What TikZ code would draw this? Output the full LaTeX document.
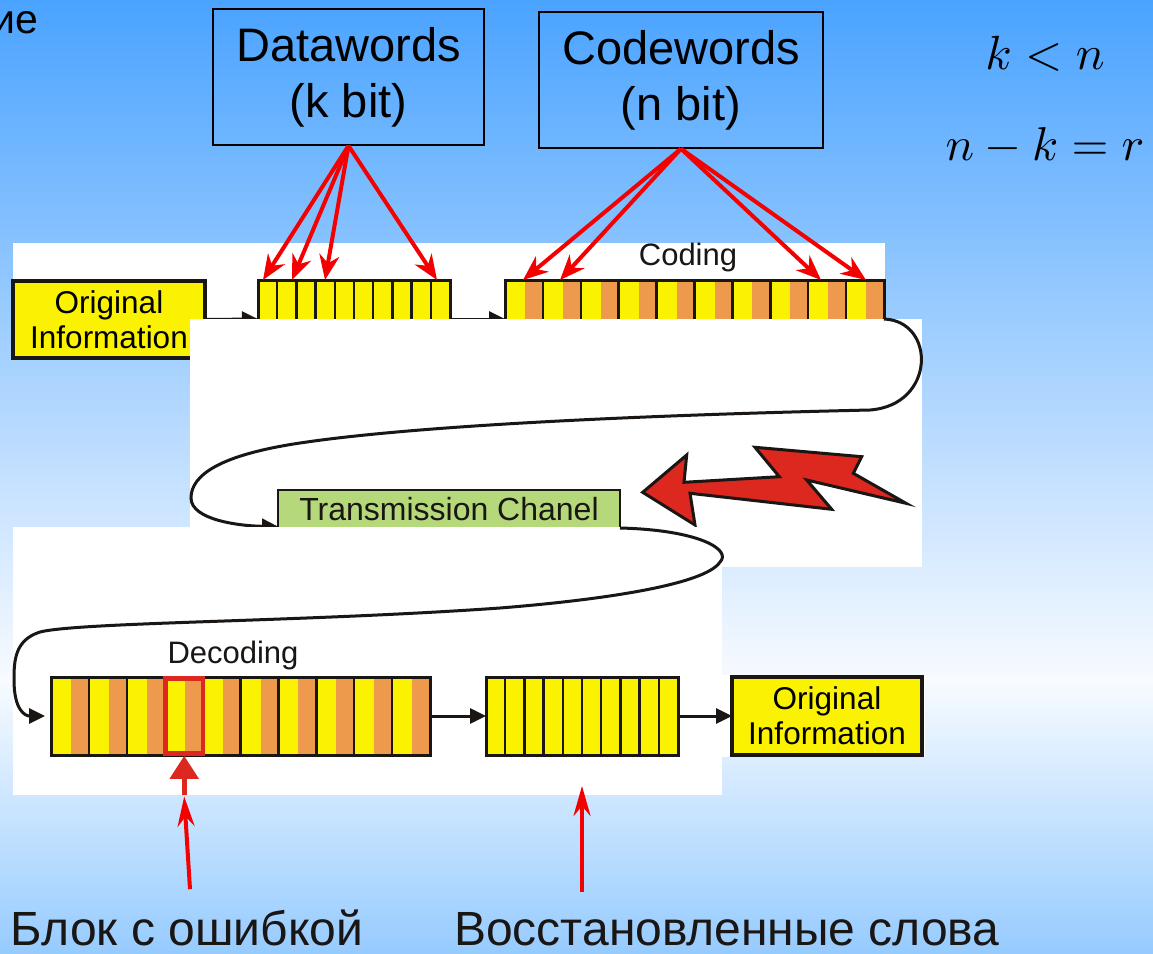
\documentclass[tikz,border=0pt]{standalone}
\usepackage[no-math]{fontspec}
\setmainfont{Liberation Sans}
\usetikzlibrary{arrows.meta,calc}
\definecolor{ylw}{RGB}{250,242,0}
\definecolor{orng}{RGB}{238,154,77}
\definecolor{grn}{RGB}{181,217,122}
\definecolor{dred}{RGB}{220,40,30}
\definecolor{bgtop}{RGB}{74,163,255}
\definecolor{bgmid}{RGB}{248,251,255}
\definecolor{bgbot}{RGB}{150,203,255}
\definecolor{ink}{RGB}{25,22,20}
\definecolor{rline}{RGB}{245,0,0}
\newcommand\fsz[2]{\fontsize{#1}{#2}\selectfont}
\tikzset{
  panel/.style={fill=white},
  ybox/.style={draw=ink, fill=ylw, line width=3.5pt, align=center, font=\fsz{31.5}{35}, inner sep=0pt, outer sep=0pt},
  bitarr/.style={inner sep=0pt, outer sep=0pt, minimum height=78pt},
  bitline/.style={draw=ink, line width=2.5pt},
  bitframe/.style={draw=ink, line width=3pt},
  blk/.style={draw=ink, line width=3pt, -{Triangle[length=16pt,width=15pt]}},
  curv/.style={draw=ink, line width=3pt, -{Triangle[length=16pt,width=15pt]}},
  redarr/.style={draw=rline, line width=4pt, -{Stealth[length=25pt,width=20pt,inset=8pt]}},
  redarrb/.style={draw=rline, line width=4pt, -{Stealth[length=30pt,width=17pt,inset=10pt]}},
  wbox/.style={draw=black, line width=1.5pt, align=center, font=\fsz{47}{56}, inner sep=0pt, minimum height=136pt},
  lbl/.style={font=\fsz{31}{35}, inner sep=0pt, text=ink}
}
\begin{document}
\begin{tikzpicture}[x=1pt,y=-1pt]
\useasboundingbox (0,0) rectangle (1153,953);
% background
\shade[top color=bgtop,bottom color=bgmid] (0,0) rectangle (1153,681);
\shade[top color=bgmid,bottom color=bgbot] (0,680) rectangle (1153,953);

% title fragment
\node[anchor=base east, font=\fsz{41}{46}, inner sep=0pt] (frag) at (38,33) {ие};

% upper boxes
\node[wbox, minimum width=271pt] (dw) at (348.5,77) {Datawords\\(k bit)};
\node[wbox, minimum width=284pt] (cw) at (681,80) {Codewords\\(n bit)};

% formulas
\node[anchor=base, scale=4.8, inner sep=0pt] (m1) at (1045,69) {$k<n$};
\node[anchor=base, scale=4.75, inner sep=0pt] (m2) at (1045,160) {$n-k=r$};

% panel 1
\fill[panel] (13,243) rectangle (885,320);
\node[ybox, minimum width=192pt, minimum height=77pt] (orig1) at (109,319.5) {Original\\Information};

\node[bitarr, minimum width=192pt] (db) at (354,319) {};
\fill[ylw] (db.north west) rectangle (db.south east);
\foreach \i in {1,...,9} \draw[bitline] ([xshift=\i*19.2pt]db.north west) -- ([xshift=\i*19.2pt]db.south west);
\draw[bitframe] (db.north west) rectangle (db.south east);

\node[bitarr, minimum width=379pt] (cb) at (694.5,319) {};
\foreach \i in {0,...,9}{
  \fill[ylw] ([xshift=\i*37.9pt]cb.north west) rectangle ([xshift=\i*37.9pt+20pt]cb.south west);
  \fill[orng] ([xshift=\i*37.9pt+20pt]cb.north west) rectangle ([xshift=\i*37.9pt+37.9pt]cb.south west);
}
\foreach \i in {1,...,9} \draw[bitline] ([xshift=\i*37.9pt]cb.north west) -- ([xshift=\i*37.9pt]cb.south west);
\draw[bitframe] (cb.north west) rectangle (cb.south east);

\draw[blk] (orig1.east) -- (db.west);
\draw[blk] (db.east) -- (cb.west);
\node[lbl] (coding) at (688,257) {Coding};

\foreach \s in {5,34,67,179} \draw[redarr] (dw.south) -- ([xshift=\s*1pt]db.north west);
\foreach \s in {18,55,316,361} \draw[redarr] (cw.south) -- ([xshift=\s*1pt]cb.north west);

% panel 2
\fill[panel] (190,319) rectangle (922,567);
\node[draw=ink, fill=grn, line width=2.5pt, minimum width=342pt, minimum height=38pt, inner sep=0pt, outer sep=0pt, font=\fsz{32}{36}, text=ink] (tc) at (449,509) {Transmission Chanel};
\draw[curv] (cb.east) .. controls (936,321) and (936,405) .. (870,410)
  .. controls (650,415) and (420,425) .. (300,443)
  .. controls (220,455) and (191,475) .. (191,498)
  .. controls (191,520) and (240,526) .. ([yshift=1.5pt]tc.south west);
\draw[fill=dred, draw=ink, line width=3pt, line join=miter]
  (642.7,492.3) -- (686.7,455) -- (684,482.3) -- (779.3,476.7) -- (755,447.3)
  -- (861.7,456.7) -- (853.3,473.3) -- (906,503.3) -- (806.7,480) -- (831.7,509.3)
  -- (690,493.3) -- (695,525) -- cycle;

% panel 3
\fill[panel] (13,527) rectangle (722,795);
\node[bitarr, minimum width=379pt] (dcb) at (240.5,716) {};
\draw[curv] (tc.south east) .. controls (700,530) and (732,550) .. (720,562)
  .. controls (705,585) and (600,600) .. (500,608)
  .. controls (300,622) and (80,622) .. (40,632)
  .. controls (15,640) and (14,660) .. (14,680)
  .. controls (14,710) and (25,716) .. ([xshift=-6pt]dcb.west);

\foreach \i in {0,...,9}{
  \fill[ylw] ([xshift=\i*37.9pt]dcb.north west) rectangle ([xshift=\i*37.9pt+20pt]dcb.south west);
  \fill[orng] ([xshift=\i*37.9pt+20pt]dcb.north west) rectangle ([xshift=\i*37.9pt+37.9pt]dcb.south west);
}
\foreach \i in {1,...,9} \draw[bitline] ([xshift=\i*37.9pt]dcb.north west) -- ([xshift=\i*37.9pt]dcb.south west);
\draw[bitframe] (dcb.north west) rectangle (dcb.south east);
\node[lbl] (decoding) at (233,655) {Decoding};

\node[draw=dred, line width=4.5pt, minimum width=37.5pt, minimum height=75pt, inner sep=0pt, outer sep=0pt] (err) at (184.2,716) {};
\coordinate (errtail) at (184.2,795);
\draw[draw=dred, line width=5pt, -{Triangle[length=23pt,width=28pt]}] (errtail) -- ([yshift=-2.25pt]err.south);

\node[bitarr, minimum width=192pt] (rb) at (582,716) {};
\fill[ylw] (rb.north west) rectangle (rb.south east);
\foreach \i in {1,...,9} \draw[bitline] ([xshift=\i*19.2pt]rb.north west) -- ([xshift=\i*19.2pt]rb.south west);
\draw[bitframe] (rb.north west) rectangle (rb.south east);

\fill[panel] (722,675) rectangle (925,757);
\node[ybox, minimum width=190pt, minimum height=78pt] (orig2) at (827,716) {Original\\Information};

\draw[blk] (dcb.east) -- (rb.west);
\draw[blk] (rb.east) -- (orig2.west);

% bottom labels
\node[font=\fsz{48}{54}, inner sep=0pt, anchor=base, text=ink] (lbl1) at (187,945) {Блок с ошибкой};
\node[font=\fsz{48}{54}, inner sep=0pt, anchor=base, text=ink] (lbl2) at (727,945) {Восстановленные слова};
\path (lbl1.north) ++(3,-20) coordinate (e0);
\path (lbl2.north) ++(0,-20) coordinate (r0);
\draw[redarrb] (e0) -- ([yshift=-43pt]err.south);
\draw[redarrb] (r0 -| rb.south) -- ([yshift=-31pt]rb.south);
\end{tikzpicture}
\end{document}
